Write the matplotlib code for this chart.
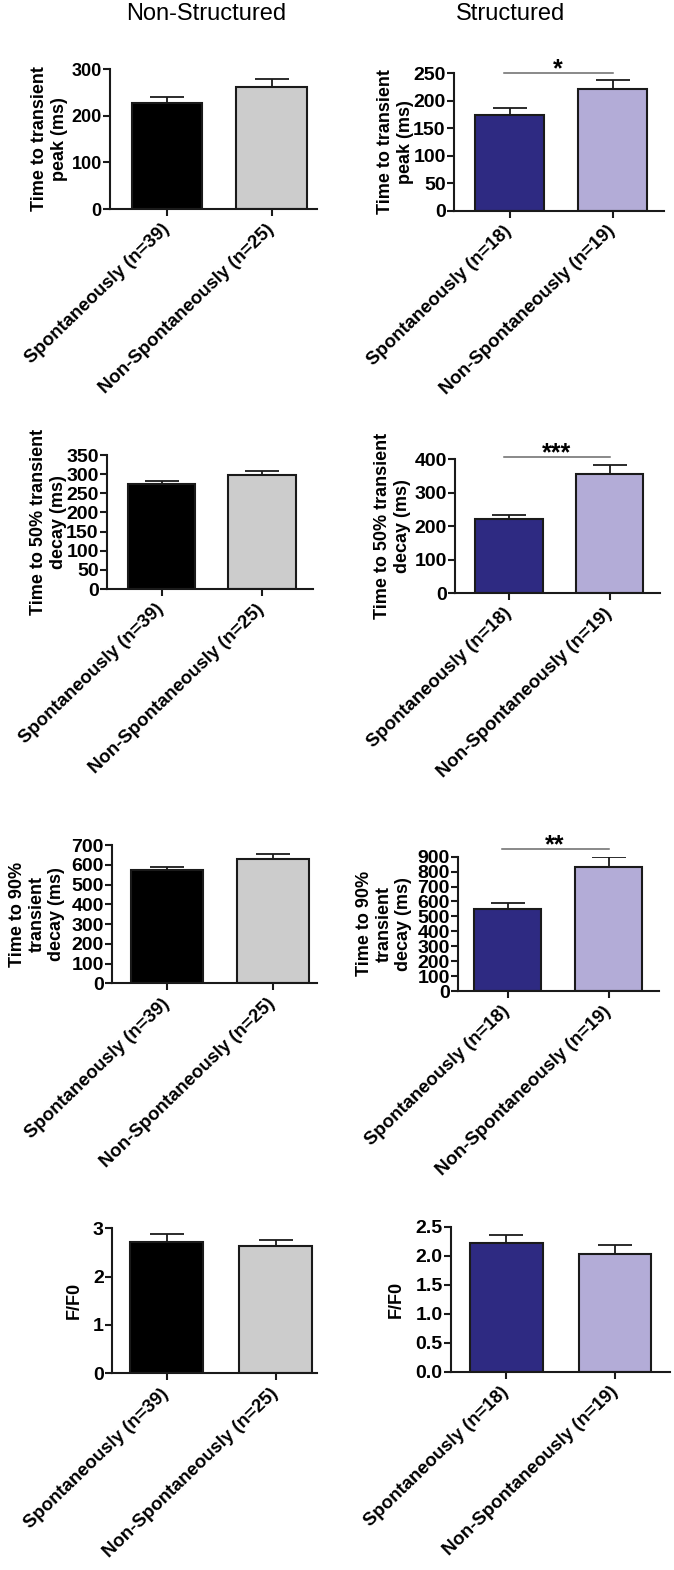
import matplotlib
matplotlib.use("Agg")
import matplotlib.pyplot as plt
import matplotlib.transforms as mtransforms

plt.rcParams['font.family'] = ['Liberation Sans', 'DejaVu Sans']

W, H = 674, 1570

# ---- data ----
cats_ns = ["Spontaneously (n=39)", "Non-Spontaneously (n=25)"]
cats_s = ["Spontaneously (n=18)", "Non-Spontaneously (n=19)"]

peak_ns = [228, 262]
peak_ns_err = [11, 17]
peak_s = [174, 222]
peak_s_err = [12, 15]

d50_ns = [275, 297]
d50_ns_err = [8, 11]
d50_s = [221, 355]
d50_s_err = [11, 29]

d90_ns = [573, 629]
d90_ns_err = [17, 25]
d90_s = [549, 833]
d90_s_err = [43, 67]

ff_ns = [2.72, 2.63]
ff_ns_err = [0.17, 0.13]
ff_s = [2.22, 2.03]
ff_s_err = [0.14, 0.15]

ylabels = ["Time to transient\npeak (ms)",
           "Time to 50% transient\ndecay (ms)",
           "Time to 90%\ntransient\ndecay (ms)",
           "F/F0"]
yticks_list = [
    ([0, 100, 200, 300], [0, 50, 100, 150, 200, 250]),
    ([0, 50, 100, 150, 200, 250, 300, 350], [0, 100, 200, 300, 400]),
    ([0, 100, 200, 300, 400, 500, 600, 700], [0, 100, 200, 300, 400, 500, 600, 700, 800, 900]),
    ([0, 1, 2, 3], [0.0, 0.5, 1.0, 1.5, 2.0, 2.5]),
]
sig = {1: ("*", 251), 3: ("***", 407), 5: ("**", 951)}

colors_ns = ["#000000", "#cccccc"]
colors_s = ["#2e2a82", "#b3acd7"]

# ---- layout (pixels): axL, axR, top, bottom, bar centers c1,c2, ylabel offset, tick fontsize
layout = [
    (110, 317, 69, 209, 167, 271.5, 42, 13),
    (454, 664, 73.3, 210.7, 509.5, 612.5, 40, 14),
    (107, 313, 455, 589, 161.5, 262, 40, 14),
    (455, 660, 459.3, 593, 509, 609.5, 44, 14),
    (112, 317, 845, 983.3, 167, 273, 47, 14),
    (458, 659, 856.7, 991, 507.5, 608.5, 46, 14),
    (112, 317, 1228.3, 1373.3, 166.5, 275.5, 29, 14),
    (451, 670, 1226.7, 1371.7, 506.5, 615, 46, 14),
]

panels = [
    (cats_ns, peak_ns, peak_ns_err, colors_ns),
    (cats_s, peak_s, peak_s_err, colors_s),
    (cats_ns, d50_ns, d50_ns_err, colors_ns),
    (cats_s, d50_s, d50_s_err, colors_s),
    (cats_ns, d90_ns, d90_ns_err, colors_ns),
    (cats_s, d90_s, d90_s_err, colors_s),
    (cats_ns, ff_ns, ff_ns_err, colors_ns),
    (cats_s, ff_s, ff_s_err, colors_s),
]

fig = plt.figure(figsize=(W / 100, H / 100), dpi=100)
shift = mtransforms.ScaledTranslation(4 / 100, 0, fig.dpi_scale_trans)

for i, ((cats, vals, errs, cols), lay) in enumerate(zip(panels, layout)):
    axL, axR, top, bot, c1, c2, yoff, tfs = lay
    ax = fig.add_axes([axL / W, 1 - bot / H, (axR - axL) / W, (bot - top) / H])
    s = c2 - c1
    xs = [0, 1]
    ax.bar(xs, vals, width=0.67, color=cols, edgecolor="#1a1a1a", linewidth=1.5, zorder=2)
    ax.errorbar(xs, vals, yerr=[[0, 0], errs], fmt="none", ecolor="#1a1a1a",
                elinewidth=1.3, capsize=12, capthick=1.3, zorder=3)
    ax.set_xlim((axL - c1) / s, 1 + (axR - c2) / s)
    row = i // 2
    yt = yticks_list[row][i % 2]
    ax.set_ylim(0, yt[-1])
    ax.set_yticks(yt)
    if row == 3 and i % 2 == 1:
        ax.set_yticklabels([f"{v:.1f}" for v in yt])
    else:
        ax.set_yticklabels([str(v) for v in yt])
    ax.set_xticks(xs)
    ax.set_xticklabels(cats, rotation=44, ha="right", va="center",
                       rotation_mode="anchor", fontsize=13.4, fontweight="bold")
    for lbl in ax.get_xticklabels():
        lbl.set_transform(lbl.get_transform() + shift)
    for lbl in ax.get_yticklabels():
        lbl.set_fontsize(tfs)
        lbl.set_fontweight("bold")
    for sp in ["top", "right"]:
        ax.spines[sp].set_visible(False)
    for sp in ["left", "bottom"]:
        ax.spines[sp].set_linewidth(1.5)
        ax.spines[sp].set_color("#1a1a1a")
    ax.tick_params(axis="both", width=1.5, length=5, color="#1a1a1a", pad=1)
    ax.tick_params(axis="x", pad=8)
    ax.set_ylabel(ylabels[row], fontsize=13, fontweight="bold", linespacing=1.2)
    ax.yaxis.set_label_coords(-yoff / (axR - axL), 0.5)
    ax.set_facecolor("none")
    if i in sig:
        txt, yv = sig[i]
        ax.plot([-0.05, 1.0], [yv, yv], color="#6a6a6a", linewidth=1.1, clip_on=False, zorder=4)
        ax.annotate(txt, xy=(0.47, yv), xytext=(0, -6), textcoords="offset points",
                    ha="center", va="bottom", fontsize=18, fontweight="bold",
                    annotation_clip=False)

fig.text(206 / W, 1 - 14 / H, "Non-Structured", ha="center", va="center", fontsize=17)
fig.text(511 / W, 1 - 14 / H, "Structured", ha="center", va="center", fontsize=17)

fig.savefig("out.png", dpi=100, facecolor="white")
